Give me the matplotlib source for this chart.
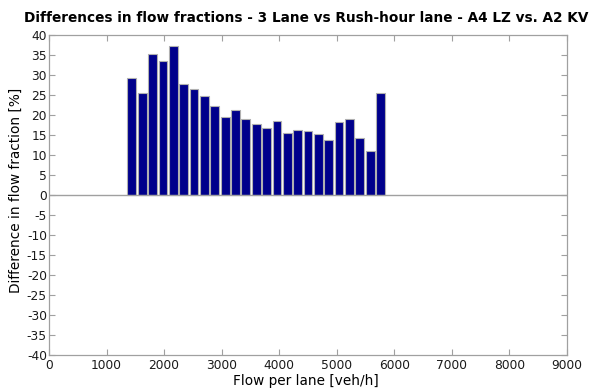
import numpy as np
import matplotlib
matplotlib.use("Agg")
import matplotlib.pyplot as plt

plt.rcParams["axes.unicode_minus"] = False

# Flow bins (bin centres, veh/h) and the difference in flow fraction per bin
flow_bins = [1440, 1620, 1800, 1980, 2160, 2340, 2520, 2700, 2880, 3060,
             3240, 3420, 3600, 3780, 3960, 4140, 4320, 4500, 4680, 4860,
             5040, 5220, 5400, 5580, 5760]
diff_pct = [29.2, 25.4, 35.3, 33.5, 37.3, 27.7, 26.4, 24.8, 22.3, 19.4,
            21.2, 19.0, 17.8, 16.8, 18.4, 15.4, 16.3, 16.0, 15.3, 13.8,
            18.2, 18.9, 14.3, 10.9, 25.5]

x_ticks = list(range(0, 9001, 1000))
y_ticks = list(range(-40, 41, 5))

title = "Differences in flow fractions - 3 Lane vs Rush-hour lane - A4 LZ vs. A2 KV"
xlabel = "Flow per lane [veh/h]"
ylabel = "Difference in flow fraction [%]"

W, H = 597, 392
fig = plt.figure(figsize=(W / 100, H / 100), dpi=100)
ax = fig.add_axes([49 / W, 37 / H, 518 / W, 320 / H])

ax.bar(flow_bins, diff_pct, width=180 * 0.85, color="#00008B",
       edgecolor="#B0B0B0", linewidth=0.8, zorder=2)
ax.axhline(0, color="#A0A0A0", linewidth=1.0, zorder=3)

ax.set_xlim(0, 9000)
ax.set_ylim(-40, 40)
ax.set_xticks(x_ticks)
ax.set_yticks(y_ticks)

grey = "#A0A0A0"
for s in ax.spines.values():
    s.set_color(grey)
    s.set_linewidth(0.9)
ax.tick_params(direction="in", length=4, width=0.8, color=grey,
               top=True, right=True, labelsize=8.8, labelcolor="#1a1a1a", pad=1.5)
ax.tick_params(axis="x", pad=3)

fig.text(306 / W, 1 - 18 / H, title, fontsize=9.8, fontweight="bold",
         ha="center", va="center")
fig.text(306 / W, 1 - 381 / H, xlabel, fontsize=9.8, ha="center", va="center")
fig.text(16 / W, 1 - 190 / H, ylabel, fontsize=9.8, rotation=90,
         ha="center", va="center")

fig.savefig("out.png", dpi=100)
